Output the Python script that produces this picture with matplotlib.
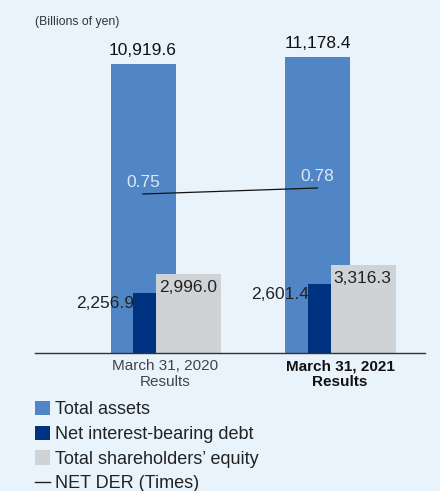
import matplotlib
matplotlib.use("Agg")
import matplotlib.pyplot as plt
from matplotlib.patches import Patch
from matplotlib.lines import Line2D
import numpy as np

categories = ["March 31, 2020\nResults", "March 31, 2021\nResults"]
total_assets = [10919.6, 11178.4]
net_debt = [2256.9, 2601.4]
equity = [2996.0, 3316.3]
net_der = [0.75, 0.78]
ta_labels = ["10,919.6", "11,178.4"]
nd_labels = ["2,256.9", "2,601.4"]
eq_labels = ["2,996.0", "3,316.3"]
der_labels = ["0.75", "0.78"]

BG = "#e8f3fc"
C_TA = "#5186c6"
C_ND = "#003282"
C_EQ = "#cfd3d6"
FONT = ["Liberation Sans", "DejaVu Sans"]
plt.rcParams["font.family"] = FONT
NUM_FS = 12.5

W, H = 440, 491
fig = plt.figure(figsize=(W / 100, H / 100), dpi=100)
fig.patch.set_facecolor(BG)

ax_left, ax_right, ax_top, ax_base = 35, 425, 30, 353
ax = fig.add_axes([ax_left / W, (H - ax_base) / H, (ax_right - ax_left) / W, (ax_base - ax_top) / H])
ax.set_facecolor("none")

x = np.arange(len(categories))
unit = 174.5
ta_off, ta_w = -22.5 / unit, 65 / unit
nd_off, nd_w = -21 / unit, 23 / unit
eq_off, eq_w = 23 / unit, 65 / unit

ax.bar(x + ta_off, total_assets, ta_w, color=C_TA, zorder=1)
ax.bar(x + nd_off, net_debt, nd_w, color=C_ND, zorder=2)
ax.bar(x + eq_off, equity, eq_w, color=C_EQ, zorder=2)

ax.set_xlim((ax_left - 165.5) / unit, (ax_right - 165.5) / unit)
ymax = (ax_base - ax_top) / (289 / 10919.6)
ax.set_ylim(0, ymax)

for s in ["top", "right", "left"]:
    ax.spines[s].set_visible(False)
ax.spines["bottom"].set_color("#333333")
ax.spines["bottom"].set_linewidth(1.0)
ax.set_yticks([])
ax.set_xticks(x)
ax.set_xticklabels(categories, fontsize=11, linespacing=1.12)
ax.tick_params(axis="x", length=0, pad=4.5)
tl = ax.get_xticklabels()
tl[0].set_color("#444444")
tl[1].set_color("#111111")
tl[1].set_fontweight("bold")

px = ymax / (ax_base - ax_top)  # data units per pixel
for i in range(len(x)):
    ax.text(x[i] + ta_off, total_assets[i] + 6 * px, ta_labels[i], ha="center", va="bottom",
            fontsize=NUM_FS, color="#111111", zorder=5)
    ax.text(x[i] + nd_off - nd_w / 2 + 1 / unit, net_debt[i] - 15 * px, nd_labels[i], ha="right",
            va="baseline", fontsize=NUM_FS, color="#222222", zorder=5)
    ax.text(x[i] + eq_off - eq_w / 2 + 3 / unit, equity[i] - 18 * px, eq_labels[i], ha="left",
            va="baseline", fontsize=NUM_FS, color="#222222", zorder=5)

ax2 = ax.twinx()
ax2.set_facecolor("none")
ppu = 200.0
ax2.set_ylim(0.75 - (ax_base - 194) / ppu, 0.75 + (194 - ax_top) / ppu)
ax2.plot(x + ta_off, net_der, color="#111111", linewidth=0.9, zorder=3)
for i in range(len(x)):
    ax2.text(x[i] + ta_off, net_der[i] + 4 / ppu, der_labels[i], ha="center", va="bottom",
             fontsize=NUM_FS, color="#dce8f6", zorder=5)
ax2.set_yticks([])
for s in ax2.spines.values():
    s.set_visible(False)

fig.text(35 / W, 1 - 22 / H, "(Billions of yen)", ha="left", va="center", fontsize=8.8, color="#333333")

handles = [Patch(facecolor=C_TA, edgecolor="none"),
           Patch(facecolor=C_ND, edgecolor="none"),
           Patch(facecolor=C_EQ, edgecolor="none"),
           Line2D([0], [0], color="#222222", linewidth=1.0)]
labels = ["Total assets", "Net interest-bearing debt", "Total shareholders\u2019 equity", "NET DER (Times)"]
leg = fig.legend(handles, labels, loc="upper left", bbox_to_anchor=(35 / W, 1 - 401 / H),
                 frameon=False, fontsize=13, handlelength=0.85, handleheight=0.85,
                 handletextpad=0.25, labelspacing=0.40, borderpad=0, borderaxespad=0)
for t in leg.get_texts():
    t.set_color("#222222")

fig.savefig("out.png", dpi=100, facecolor=BG)
